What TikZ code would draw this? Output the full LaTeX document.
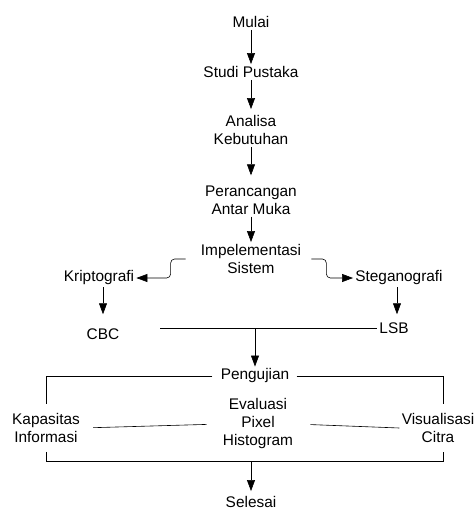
\documentclass[tikz,border=0pt]{standalone}
\usepackage{fontspec}
\setmainfont{Liberation Sans}
\usetikzlibrary{arrows.meta}

\begin{document}
\begin{tikzpicture}[->,>={Triangle[length=11pt,width=8pt]},x=1pt,y=-1pt,line width=0.6pt,
    font=\fontsize{15.4}{18}\selectfont,every node/.style={align=center,inner sep=2pt}]
    \useasboundingbox (0,0) rectangle (475,512);
    % alur utama
    \node (mulai) at (251,22) {Mulai};
    \node (studi) at (251,72) {Studi Pustaka};
    \node (analisa) at (251,130) {Analisa\\Kebutuhan};
    \node (rancang) at (251,200) {Perancangan\\Antar Muka};
    \node (impl) at (251,259) {Impelementasi\\Sistem};
    \node (kripto) at (99,278) {Kriptografi};
    \node (stega) at (399,278) {Steganografi};
    \node (cbc) at (103,334) {CBC};
    \node (lsb) at (394,328) {LSB};
    \node (uji) at (255,376) {Pengujian};
    \node (kap) at (46,428) {Kapasitas\\Informasi};
    \node (eva) at (258,424) {Evaluasi\\Pixel\\Histogram};
    \node (vis) at (438,428) {Visualisasi\\Citra};
    \node (selesai) at (251,502) {Selesai};
    \coordinate (gabung) at (160,328);
    \coordinate (bawah) at (251,461);

    \draw (mulai) -- (studi);
    \draw[shorten >=4pt] (studi) -- (analisa);
    \draw[shorten >=8pt] (analisa) -- (rancang);
    \draw (rancang) -- (impl);
    \draw[rounded corners=4pt,shorten <=13pt] (impl.west) -- ++(-28,0) |- (kripto.east);
    \draw[rounded corners=4pt,shorten <=8pt] (impl.east) -- ++(23,0) |- (stega.west);
    \draw[shorten >=12pt] (kripto.south -| cbc) -- (cbc);
    \draw[shorten >=6pt] (stega.south -| 397,0) -- (lsb.north -| 397,0);
    \draw[-] (gabung) -- (lsb.west);
    \draw (gabung -| uji) -- (uji);
    % kotak pengujian
    \draw[-,shorten <=6pt,shorten >=7pt] (uji.west) -| (kap.north);
    \draw[-,shorten <=5pt,shorten >=7pt] (uji.east) -| ([xshift=5pt]vis.north);
    \draw[-,shorten <=11pt,shorten >=14pt] (kap.east) -- (eva.west);
    \draw[-,shorten <=15pt] (eva.east) -- (vis.west);
    \draw[-,shorten <=7pt] (kap.south) |- (bawah);
    \draw[-,shorten >=7pt] (bawah) -| ([xshift=5pt]vis.south);
    \draw[shorten >=3pt] (bawah) -- (selesai);
\end{tikzpicture}
\end{document}
